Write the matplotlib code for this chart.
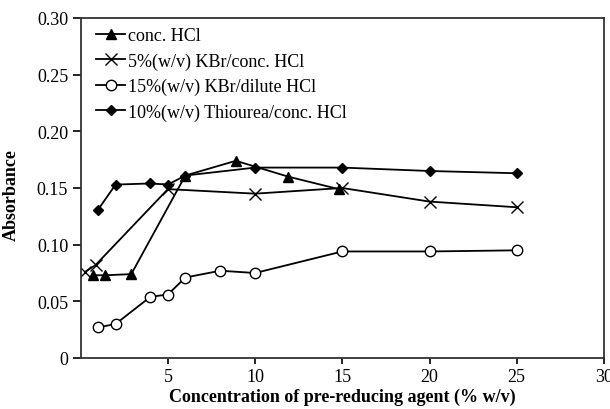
import matplotlib
matplotlib.use("Agg")
import matplotlib.pyplot as plt

x_hcl = [0.7, 1.4, 2.9, 6, 8.9, 11.9, 14.8]
y_hcl = [0.073, 0.073, 0.074, 0.161, 0.174, 0.160, 0.149]

x_kbr5 = [0.25, 0.85, 5, 10, 15, 20, 25]
y_kbr5 = [0.076, 0.082, 0.149, 0.145, 0.150, 0.138, 0.133]

x_kbr15 = [1, 2, 4, 5, 6, 8, 10, 15, 20, 25]
y_kbr15 = [0.027, 0.030, 0.054, 0.056, 0.071, 0.077, 0.075, 0.094, 0.094, 0.095]

x_thio = [1, 2, 4, 5, 6, 10, 15, 20, 25]
y_thio = [0.131, 0.153, 0.154, 0.153, 0.161, 0.168, 0.168, 0.165, 0.163]

labels = ["conc. HCl", "5%(w/v) KBr/conc. HCl",
          "15%(w/v) KBr/dilute HCl", "10%(w/v) Thiourea/conc. HCl"]

plt.rcParams['font.family'] = ['Liberation Serif', 'DejaVu Serif']

fig = plt.figure(figsize=(6.1, 4.1), dpi=100)
ax = fig.add_axes([0.1323, 0.1244, 0.8577, 0.8293])

lw = 1.3
ax.plot(x_hcl, y_hcl, color='black', lw=lw, marker='^', ms=7.5, mfc='black', label=labels[0])
ax.plot(x_kbr5, y_kbr5, color='black', lw=lw, marker='x', ms=8, mew=1.0, label=labels[1])
ax.plot(x_kbr15, y_kbr15, color='black', lw=lw, marker='o', ms=7.5, mfc='white', mew=1.0, label=labels[2])
ax.plot(x_thio, y_thio, color='black', lw=lw, marker='D', ms=5.5, mfc='black', label=labels[3])

ax.set_xlim(0, 30)
ax.set_ylim(0, 0.30)
ax.set_xticks([5, 10, 15, 20, 25, 30])
ax.set_xticklabels(['5', '10', '15', '20', '25', '30'])
ax.set_yticks([0, 0.05, 0.10, 0.15, 0.20, 0.25, 0.30])
ax.set_yticklabels(['0', '0.05', '0.10', '0.15', '0.20', '0.25', '0.30'])
ax.tick_params(axis='y', direction='out', length=6, width=1.2, labelsize=13, pad=3, colors='black')
ax.tick_params(axis='x', direction='out', length=4, width=1.2, labelsize=13, pad=3, colors='black')
for s in ax.spines.values():
    s.set_linewidth(1.3)
    s.set_color('#333333')

ax.set_xlabel('Concentration of pre-reducing agent (% w/v)', fontsize=13, fontweight='bold', labelpad=2)
ax.set_ylabel('Absorbance', fontsize=13, fontweight='bold')
ax.yaxis.set_label_coords(-0.116, 0.482)

leg = ax.legend(loc='upper left', frameon=False, fontsize=13, handlelength=1.6,
                handletextpad=0.15, labelspacing=0.45, borderaxespad=0.3,
                bbox_to_anchor=(0.006, 1.01))

fig.savefig('out.png', dpi=100)
